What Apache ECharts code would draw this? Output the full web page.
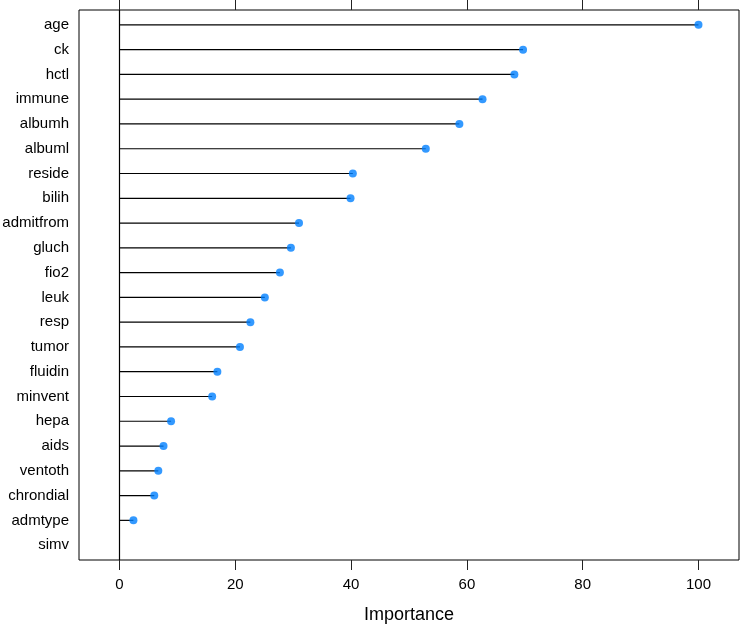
<!DOCTYPE html>
<html>
<head>
<meta charset="utf-8">
<script src="https://cdn.jsdelivr.net/npm/echarts@6/dist/echarts.min.js"></script>
<style>
  html, body { margin: 0; padding: 0; background: #fff; }
  #chart { width: 740px; height: 626px; }
</style>
</head>
<body>
<div id="chart"></div>
<script>
// variables, top to bottom
const categories = [
  'age', 'ck', 'hctl', 'immune', 'albumh', 'albuml', 'reside', 'bilih',
  'admitfrom', 'gluch', 'fio2', 'leuk', 'resp', 'tumor', 'fluidin', 'minvent',
  'hepa', 'aids', 'ventoth', 'chrondial', 'admtype', 'simv'
]
// scaled importance (simv has no point drawn)
const importance = [
  100, 69.7, 68.2, 62.7, 58.7, 52.9, 40.3, 39.9,
  31.0, 29.6, 27.7, 25.1, 22.6, 20.8, 16.9, 16.0,
  8.9, 7.6, 6.7, 6.0, 2.4, null
]
const xTicks = [0, 20, 40, 60, 80, 100]

const FONT = '"Liberation Sans", Arial, Helvetica, sans-serif'
const rowPos = categories.map((_, i) => i + 1)
const points = categories.map((c, i) => [importance[i], i + 1])

const chart = echarts.init(document.getElementById('chart'))

const xCommon = {
  type: 'value',
  min: -7,
  max: 107,
  axisLine: { show: false },
  splitLine: { show: false },
  axisTick: {
    show: true,
    length: 10,
    customValues: xTicks,
    lineStyle: { color: '#222', width: 1 }
  }
}

chart.setOption({
  animation: false,
  grid: {
    left: 79, right: 1, top: 10, bottom: 66,
    containLabel: false,
    outerBoundsMode: 'none',
    show: true,
    borderColor: '#000',
    borderWidth: 1,
    backgroundColor: 'transparent'
  },
  xAxis: [
    Object.assign({}, xCommon, {
      position: 'bottom',
      name: 'Importance',
      nameLocation: 'middle',
      nameGap: 46,
      nameTextStyle: { fontFamily: FONT, fontSize: 18, color: '#000' },
      axisLabel: {
        show: true,
        customValues: xTicks,
        margin: 17,
        fontFamily: FONT,
        fontSize: 15,
        color: '#000'
      }
    }),
    Object.assign({}, xCommon, {
      position: 'top',
      axisLabel: { show: false }
    })
  ],
  yAxis: {
    type: 'value',
    inverse: true,
    min: 0.4,
    max: 22.6,
    axisLine: { show: false },
    axisTick: { show: false },
    splitLine: { show: false },
    axisLabel: {
      customValues: rowPos,
      formatter: v => categories[Math.round(v) - 1] || '',
      margin: 10,
      fontFamily: FONT,
      fontSize: 15,
      color: '#000'
    }
  },
  series: [
    {
      // stems from 0 to each value
      type: 'custom',
      xAxisIndex: 0,
      data: points.filter(p => p[0] != null),
      renderItem(params, api) {
        const a = api.coord([0, api.value(1)])
        const b = api.coord([api.value(0), api.value(1)])
        return {
          type: 'line',
          shape: { x1: a[0], y1: a[1], x2: b[0], y2: b[1] },
          style: { stroke: '#000', lineWidth: 1.2 }
        }
      },
      markLine: {
        silent: true,
        symbol: 'none',
        label: { show: false },
        lineStyle: { color: '#000', width: 1.2, type: 'solid' },
        data: [{ xAxis: 0 }]
      },
      z: 2
    },
    {
      type: 'scatter',
      xAxisIndex: 0,
      data: points.filter(p => p[0] != null),
      symbol: 'circle',
      symbolSize: 8,
      itemStyle: { color: '#0080ff' },
      z: 3
    }
  ]
})
</script>
</body>
</html>
